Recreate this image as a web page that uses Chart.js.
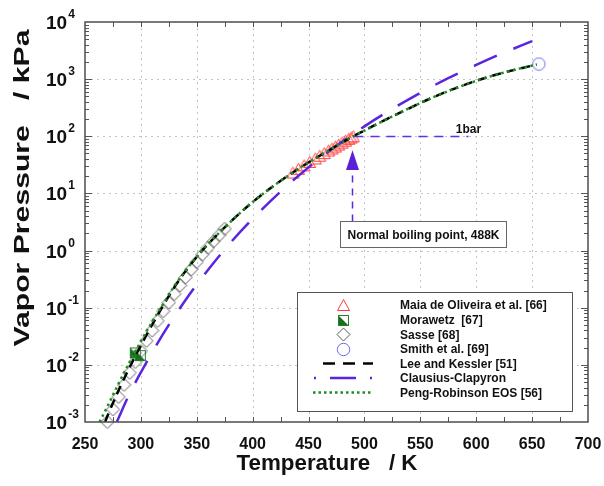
<!DOCTYPE html>
<html>
<head>
<meta charset="utf-8">
<title>Vapor pressure</title>
<script src="https://cdn.jsdelivr.net/npm/chart.js@4.4.1/dist/chart.umd.min.js"></script>
<style>
  html, body { margin: 0; padding: 0; background: #fff; }
  canvas { display: block; }
</style>
</head>
<body>
<canvas id="vpChart" width="604" height="486"></canvas>
<script>
'use strict';

// axis ticks
const xTickLabels = [250, 300, 350, 400, 450, 500, 550, 600, 650, 700];
const yTickExps = [-3, -2, -1, 0, 1, 2, 3, 4];

// Peng-Robinson EOS [56]  (T in K, P in kPa)
const prT = [263, 270, 280, 290, 300, 310, 320, 330, 340, 350, 360, 370, 380, 390, 400, 420, 440, 460, 480, 490, 500, 520, 540, 560, 580, 600, 620, 640, 654];
const prP = [0.00100, 0.00186, 0.00468, 0.0112, 0.0257, 0.0562, 0.117, 0.240, 0.447, 0.776, 1.29, 2.04, 3.16, 4.79, 7.08, 14.1, 26.3, 45.7, 77.6, 100, 126, 200, 309, 468, 676, 933, 1230, 1550, 1800];

// Lee and Kessler [51]
const lkT = [268, 270, 280, 290, 300, 310, 320, 330, 340, 350, 360, 370, 380, 390, 400, 420, 440, 460, 480, 490, 500, 520, 540, 560, 580, 600, 620, 640, 654];
const lkP = [0.00100, 0.00126, 0.00355, 0.00912, 0.0219, 0.0501, 0.110, 0.229, 0.437, 0.776, 1.29, 2.04, 3.16, 4.79, 7.08, 14.1, 26.3, 45.7, 77.6, 100, 126, 200, 309, 468, 676, 933, 1230, 1550, 1800];

// Clausius-Clapyron
const ccT = [278.5, 290, 300, 312.5, 325, 337.5, 350, 375, 400, 425, 450, 475, 500, 525, 550, 575, 600, 625, 650];
const ccP = [0.00101, 0.00316, 0.0074, 0.020, 0.050, 0.116, 0.255, 1.05, 3.6, 10.8, 28.6, 68, 149, 302, 577, 1040, 1770, 2920, 4620];

// Maia de Oliveira et al. [66]
const maiaT = [436, 441, 446, 451, 456, 460, 464, 468, 471, 474, 477, 480, 483, 486, 488, 490];
const maiaP = [23.2, 27.0, 31.0, 35.6, 40.9, 45.7, 50.8, 56.5, 61.2, 66.2, 71.8, 77.6, 83.8, 90.4, 95.1, 100];

// Morawetz [67]
const morT = [295, 299.5];
const morP = [0.0162, 0.0145];

// Sasse [68]
const sasseT = [270, 275, 280, 285, 290, 295, 300, 305, 310, 315, 320, 325, 330, 335, 340, 345, 350, 355, 360, 365, 370, 375];
const sasseP = [0.00100, 0.00166, 0.00275, 0.00447, 0.00724, 0.0112, 0.0174, 0.0263, 0.0398, 0.0589, 0.0871, 0.123, 0.174, 0.245, 0.339, 0.468, 0.631, 0.851, 1.12, 1.45, 1.86, 2.40];

// Smith et al. [69]
const smithT = [656];
const smithP = [1840];

const legendNames = ['Maia de Oliveira et al. [66]', 'Morawetz  [67]', 'Sasse [68]', 'Smith et al. [69]',
  'Lee and Kessler [51]', 'Clausius-Clapyron', 'Peng-Robinson EOS [56]'];

const FONT = '"Liberation Sans", Arial, Helvetica, sans-serif';
const CC_COLOR = '#5a24e0';
const PR_COLOR = '#1f8c1f';

function pts(xs, ys) {
  return xs.map(function (x, i) { return { x: x, y: ys[i] }; });
}

function makeMarker(w, h, draw) {
  const c = document.createElement('canvas');
  c.width = w;
  c.height = h;
  draw(c.getContext('2d'));
  return c;
}

const triMark = makeMarker(15, 14, function (g) {
  g.strokeStyle = '#ff3c3c';
  g.lineWidth = 1;
  g.beginPath();
  g.moveTo(7.5, 1.5); g.lineTo(13.5, 12.5); g.lineTo(1.5, 12.5);
  g.closePath();
  g.stroke();
});
const sqMark = makeMarker(13, 13, function (g) {
  g.fillStyle = '#17701a';
  g.beginPath();
  g.moveTo(1.5, 1.5); g.lineTo(1.5, 11.5); g.lineTo(11.5, 11.5);
  g.closePath();
  g.fill();
  g.strokeStyle = '#2b7d2e';
  g.lineWidth = 1;
  g.strokeRect(1.5, 1.5, 10, 10);
});
const diaMark = makeMarker(15, 15, function (g) {
  g.strokeStyle = '#5a5a5a';
  g.lineWidth = 1;
  g.beginPath();
  g.moveTo(7.5, 1); g.lineTo(14, 7.5); g.lineTo(7.5, 14); g.lineTo(1, 7.5);
  g.closePath();
  g.stroke();
});
const circMark = makeMarker(15, 15, function (g) {
  g.strokeStyle = '#6b6bea';
  g.lineWidth = 1;
  g.beginPath();
  g.arc(7.5, 7.5, 6.2, 0, Math.PI * 2);
  g.stroke();
});

// grid, frame, ticks, labels, legend and the boiling point notes
const decorPlugin = {
  id: 'decor',
  beforeDatasetsDraw(chart) {
    const ctx = chart.ctx;
    const a = chart.chartArea;
    const xs = chart.scales.x, ys = chart.scales.y;
    ctx.save();
    ctx.strokeStyle = '#c4c4c4';
    ctx.lineWidth = 1;
    ctx.setLineDash([2, 4]);
    ctx.beginPath();
    xTickLabels.forEach(function (t) {
      const px = Math.round(xs.getPixelForValue(t)) + 0.5;
      if (px <= a.left + 2 || px >= a.right - 2) return;
      ctx.moveTo(px, a.top); ctx.lineTo(px, a.bottom);
    });
    yTickExps.forEach(function (e) {
      const py = Math.round(ys.getPixelForValue(Math.pow(10, e))) + 0.5;
      if (py <= a.top + 2 || py >= a.bottom - 2) return;
      ctx.moveTo(a.left, py); ctx.lineTo(a.right, py);
    });
    ctx.stroke();
    ctx.restore();
  },
  afterDatasetsDraw(chart) {
    const ctx = chart.ctx;
    const a = chart.chartArea;
    const xs = chart.scales.x, ys = chart.scales.y;
    ctx.save();

    // ticks (inward)
    ctx.strokeStyle = '#555';
    ctx.lineWidth = 1;
    ctx.beginPath();
    for (let t = 275; t < 700; t += 25) {
      const px = Math.round(xs.getPixelForValue(t)) + 0.5;
      ctx.moveTo(px, a.bottom); ctx.lineTo(px, a.bottom - 5);
      ctx.moveTo(px, a.top); ctx.lineTo(px, a.top + 5);
    }
    for (let e = -3; e < 4; e++) {
      for (let m = 1; m < 10; m++) {
        const py = Math.round(ys.getPixelForValue(m * Math.pow(10, e))) + 0.5;
        const len = m === 1 ? 7 : 4;
        if (m === 1 && e === -3) continue;
        ctx.moveTo(a.left, py); ctx.lineTo(a.left + len, py);
        ctx.moveTo(a.right, py); ctx.lineTo(a.right - len, py);
      }
    }
    ctx.stroke();

    // frame
    ctx.strokeStyle = '#4d4d4d';
    ctx.lineWidth = 1.5;
    ctx.strokeRect(a.left, a.top, a.right - a.left, a.bottom - a.top);

    // x tick labels
    ctx.fillStyle = '#111';
    ctx.font = 'bold 16px ' + FONT;
    ctx.textAlign = 'center';
    ctx.textBaseline = 'alphabetic';
    xTickLabels.forEach(function (t) {
      ctx.fillText(String(t), xs.getPixelForValue(t), 449);
    });

    // y tick labels 10^n
    ctx.textAlign = 'left';
    yTickExps.forEach(function (e) {
      const py = ys.getPixelForValue(Math.pow(10, e));
      ctx.font = 'bold 19px ' + FONT;
      ctx.fillText('10', 46, py + 7);
      const w = ctx.measureText('10').width;
      ctx.font = 'bold 12px ' + FONT;
      ctx.fillText(e < 0 ? '-' + Math.abs(e) : String(e), 46 + w + 1, py - 4);
    });

    // axis titles
    ctx.font = 'bold 22px ' + FONT;
    ctx.textAlign = 'center';
    let txt = 'Temperature   / K';
    let tw = ctx.measureText(txt).width;
    ctx.save();
    ctx.translate(327, 470);
    ctx.scale(181 / tw, 1);
    ctx.fillText(txt, 0, 0);
    ctx.restore();

    txt = 'Vapor Pressure   / kPa';
    ctx.font = 'bold 22px ' + FONT;
    tw = ctx.measureText(txt).width;
    ctx.save();
    ctx.translate(29, 188);
    ctx.rotate(-Math.PI / 2);
    ctx.scale(317 / tw, 1);
    ctx.fillText(txt, 0, 0);
    ctx.restore();

    // 1 bar line
    const yBar = Math.round(ys.getPixelForValue(100)) + 0.5;
    ctx.strokeStyle = '#6030ea';
    ctx.lineWidth = 1.5;
    ctx.setLineDash([9, 7]);
    ctx.beginPath();
    ctx.moveTo(xs.getPixelForValue(491), yBar);
    ctx.lineTo(xs.getPixelForValue(593), yBar);
    ctx.stroke();
    ctx.fillStyle = '#111';
    ctx.font = 'bold 12px ' + FONT;
    ctx.textAlign = 'center';
    ctx.fillText('1bar', xs.getPixelForValue(593), yBar - 4);

    // boiling point arrow
    const xb = Math.round(xs.getPixelForValue(488.5)) + 0.5;
    const yTip = ys.getPixelForValue(57);
    const yBase = ys.getPixelForValue(25.7);
    const yBox = Math.round(ys.getPixelForValue(3.3)) + 0.5;
    ctx.strokeStyle = '#5a24e0';
    ctx.setLineDash([7, 6]);
    ctx.beginPath();
    ctx.moveTo(xb, yBox); ctx.lineTo(xb, yBase);
    ctx.stroke();
    ctx.setLineDash([]);
    ctx.fillStyle = '#5a1fd8';
    ctx.beginPath();
    ctx.moveTo(xb, yTip); ctx.lineTo(xb + 6.5, yBase); ctx.lineTo(xb - 6.5, yBase);
    ctx.closePath();
    ctx.fill();

    // boiling point box
    const bx = Math.round(xs.getPixelForValue(478)) + 0.5;
    ctx.font = 'bold 12px ' + FONT;
    txt = 'Normal boiling point, 488K';
    tw = ctx.measureText(txt).width;
    ctx.fillStyle = '#fff';
    ctx.fillRect(bx, yBox, tw + 14, 26);
    ctx.strokeStyle = '#666';
    ctx.lineWidth = 1;
    ctx.strokeRect(bx, yBox, tw + 14, 26);
    ctx.fillStyle = '#111';
    ctx.textAlign = 'left';
    ctx.textBaseline = 'middle';
    ctx.fillText(txt, bx + 7, yBox + 14);

    // legend
    const L = { x: 297.5, y: 292.5, w: 275, h: 119 };
    ctx.fillStyle = '#fff';
    ctx.fillRect(L.x, L.y, L.w, L.h);
    ctx.strokeStyle = '#555';
    ctx.lineWidth = 1;
    ctx.strokeRect(L.x, L.y, L.w, L.h);
    const rowY = [305, 320, 334.5, 349, 363.5, 378, 392.5];
    const sx = 343;
    [triMark, sqMark, diaMark, circMark].forEach(function (m, i) {
      ctx.drawImage(m, Math.round(sx - m.width / 2), Math.round(rowY[i] - m.height / 2));
    });
    ctx.lineWidth = 2.5;
    ctx.strokeStyle = '#000';
    ctx.setLineDash([12, 8]);
    ctx.beginPath(); ctx.moveTo(323, rowY[4]); ctx.lineTo(373, rowY[4]); ctx.stroke();
    ctx.strokeStyle = CC_COLOR;
    ctx.setLineDash([2, 14, 26, 14, 2]);
    ctx.beginPath(); ctx.moveTo(314, rowY[5]); ctx.lineTo(372, rowY[5]); ctx.stroke();
    ctx.strokeStyle = PR_COLOR;
    ctx.setLineDash([2.5, 3]);
    ctx.beginPath(); ctx.moveTo(313, rowY[6]); ctx.lineTo(372, rowY[6]); ctx.stroke();
    ctx.setLineDash([]);
    ctx.fillStyle = '#111';
    ctx.font = 'bold 12px ' + FONT;
    ctx.textAlign = 'left';
    ctx.textBaseline = 'middle';
    legendNames.forEach(function (n, i) {
      ctx.fillText(n, 400, rowY[i] + 1);
    });

    ctx.restore();
  }
};

const context = document.querySelector('#vpChart').getContext('2d');
new Chart(context, {
  type: 'scatter',
  data: {
    datasets: [
      { label: legendNames[6], data: pts(prT, prP), showLine: true, borderColor: PR_COLOR, borderWidth: 2.5,
        borderDash: [2.5, 3.5], pointRadius: 0, cubicInterpolationMode: 'monotone', fill: false },
      { label: legendNames[4], data: pts(lkT, lkP), showLine: true, borderColor: '#000', borderWidth: 2.5,
        borderDash: [9, 6], pointRadius: 0, cubicInterpolationMode: 'monotone', fill: false },
      { label: legendNames[5], data: pts(ccT, ccP), showLine: true, borderColor: CC_COLOR, borderWidth: 2.5,
        borderDash: [25, 18], pointRadius: 0, cubicInterpolationMode: 'monotone', fill: false },
      { label: legendNames[0], data: pts(maiaT, maiaP), pointStyle: triMark, pointRadius: 7 },
      { label: legendNames[1], data: pts(morT, morP), pointStyle: sqMark, pointRadius: 6 },
      { label: legendNames[2], data: pts(sasseT, sasseP), pointStyle: diaMark, pointRadius: 7, clip: false },
      { label: legendNames[3], data: pts(smithT, smithP), pointStyle: circMark, pointRadius: 7, clip: false }
    ]
  },
  options: {
    responsive: false,
    animation: false,
    layout: { padding: { left: 85, right: 16, top: 22, bottom: 64 } },
    plugins: {
      legend: { display: false },
      tooltip: { enabled: false }
    },
    scales: {
      x: { type: 'linear', min: 250, max: 700, display: false },
      y: { type: 'logarithmic', min: 0.001, max: 10000, display: false }
    }
  },
  plugins: [decorPlugin]
});
</script>
</body>
</html>
